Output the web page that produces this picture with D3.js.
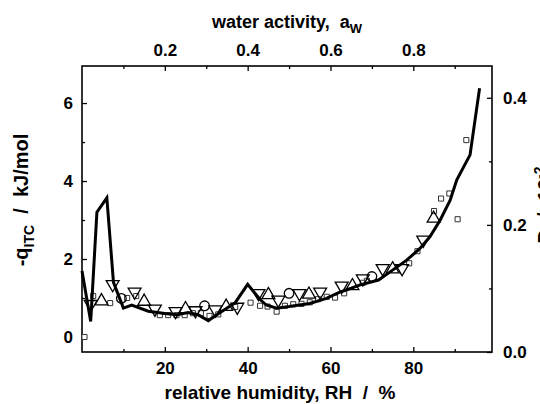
<!DOCTYPE html>
<html>
<head>
<meta charset="utf-8">
<script src="https://cdn.jsdelivr.net/npm/d3@7"></script>
<style>
  body { margin: 0; background: #fff; }
  svg text { font-family: "Liberation Sans", Arial, sans-serif; font-weight: bold; fill: #000; }
</style>
</head>
<body>
<div id="chart"></div>
<script>
// solid line (RH %, -q kJ/mol)
const lineRH = [0, 2.1, 3.6, 6.0, 7.6, 10, 12, 16, 20, 23, 25.6, 28, 30.5, 33, 37, 40, 43, 44.5, 47, 50, 55, 59, 62, 65, 67, 71.6, 74.4, 78.4, 81.6, 84, 86.5, 88.9, 90.5, 93.7, 96];
const lineQ  = [1.69, 0.4, 3.2, 3.57, 1.4, 0.74, 0.82, 0.66, 0.6, 0.57, 0.63, 0.57, 0.42, 0.6, 0.88, 1.35, 0.96, 0.82, 0.74, 0.78, 0.86, 0.99, 1.14, 1.25, 1.33, 1.46, 1.67, 1.97, 2.27, 2.57, 3.0, 3.51, 4.03, 4.67, 6.38];

// open squares
const sqRH = [0.6, 2.7, 6.8, 10.9, 13.1, 18.8, 20.8, 22.8, 24.8, 26.8, 28.7, 30.8, 32.9, 37, 40.7, 43, 44.8, 47, 49, 51, 53, 55, 57, 59.1, 61.1, 63.3, 67.8, 68.8, 79, 81, 85, 86.7, 88.7, 90.7, 92.8];
const sqQ  = [0.0, 1.05, 0.87, 1.0, 1.05, 0.56, 0.56, 0.56, 0.56, 0.61, 0.61, 0.54, 0.58, 0.77, 0.88, 0.8, 0.78, 0.65, 0.8, 0.84, 0.85, 0.89, 0.97, 1.03, 1.01, 1.12, 1.39, 1.44, 1.89, 2.2, 3.23, 3.55, 3.68, 3.02, 5.05];

// open triangles up
const upRH = [4.7, 15, 25, 34.8, 45, 54.8, 65.3, 75, 84.9];
const upQ  = [0.92, 0.91, 0.72, 0.78, 1.08, 1.09, 1.31, 1.74, 3.04];

// open triangles down
const dnRH = [2.1, 7.4, 12.7, 17.6, 22.6, 27.4, 32.2, 37.5, 42.6, 47.4, 52.5, 57.5, 62.7, 67.8, 72.6, 77.3, 82.4];
const dnQ  = [0.84, 1.35, 1.16, 0.72, 0.66, 0.68, 0.7, 0.77, 1.12, 0.95, 1.12, 1.16, 1.31, 1.5, 1.76, 1.76, 2.49];

// open circles
const ciRH = [9.5, 29.6, 50, 70];
const ciQ  = [0.99, 0.8, 1.12, 1.55];

// ticks
const bottomTicks = [20, 40, 60, 80];
const bottomMinor = [10, 30, 50, 70, 90];
const topTicks = [0.2, 0.4, 0.6, 0.8];
const topMinor = [0.1, 0.3, 0.5, 0.7, 0.9];
const leftTicks = [0, 2, 4, 6];
const leftMinor = [1, 3, 5];
const rightTicks = [0.0, 0.2, 0.4];
const rightMinor = [0.1, 0.3];

const W = 540, H = 404;
const L = 82, R = 492, T = 66, B = 352;

const svg = d3.select("#chart").append("svg")
  .attr("width", W).attr("height", H);

const x = d3.scaleLinear().domain([0, 99]).range([L, R]);
const xTop = d3.scaleLinear().domain([0, 0.99]).range([L, R]);
const y = d3.scaleLinear().domain([-0.385, 6.95]).range([B, T]);
const yR = d3.scaleLinear().domain([0, 0.45]).range([B, T]);

function styleAxis(g, size) {
  g.select(".domain").remove();
  g.selectAll("line").attr("stroke", "#000").attr("stroke-width", 1.3);
  g.selectAll("text").style("font-size", size + "px");
}

// axes: ticks point inward
svg.append("g").attr("transform", `translate(0,${B})`)
  .call(d3.axisBottom(x).tickValues(bottomTicks).tickSize(-5).tickPadding(10))
  .call(g => styleAxis(g, 17));
svg.append("g").attr("transform", `translate(0,${B})`)
  .call(d3.axisBottom(x).tickValues(bottomMinor).tickSize(-3).tickFormat(""))
  .call(g => styleAxis(g, 17));

svg.append("g").attr("transform", `translate(0,${T})`)
  .call(d3.axisTop(xTop).tickValues(topTicks).tickSize(-5).tickPadding(10).tickFormat(d3.format(".1f")))
  .call(g => styleAxis(g, 17));
svg.append("g").attr("transform", `translate(0,${T})`)
  .call(d3.axisTop(xTop).tickValues(topMinor).tickSize(-3).tickFormat(""))
  .call(g => styleAxis(g, 17));

svg.append("g").attr("transform", `translate(${L},0)`)
  .call(d3.axisLeft(y).tickValues(leftTicks).tickSize(-5).tickPadding(9))
  .call(g => styleAxis(g, 17));
svg.append("g").attr("transform", `translate(${L},0)`)
  .call(d3.axisLeft(y).tickValues(leftMinor).tickSize(-3).tickFormat(""))
  .call(g => styleAxis(g, 17));

svg.append("g").attr("transform", `translate(${R},0)`)
  .call(d3.axisRight(yR).tickValues(rightTicks).tickSize(-5).tickPadding(11).tickFormat(d3.format(".1f")))
  .call(g => styleAxis(g, 17));
svg.append("g").attr("transform", `translate(${R},0)`)
  .call(d3.axisRight(yR).tickValues(rightMinor).tickSize(-3).tickFormat(""))
  .call(g => styleAxis(g, 17));

// frame
svg.append("rect")
  .attr("x", L).attr("y", T).attr("width", R - L).attr("height", B - T)
  .attr("fill", "none").attr("stroke", "#000").attr("stroke-width", 1.6);

// markers
const plot = svg.append("g");

function pairs(a, b) { return a.map((v, i) => [v, b[i]]); }

plot.selectAll(".sq").data(pairs(sqRH, sqQ)).enter().append("path")
  .attr("class", "sq")
  .attr("transform", d => `translate(${x(d[0])},${y(d[1])})`)
  .attr("d", d3.symbol(d3.symbolSquare, 26))
  .attr("fill", "#fff").attr("stroke", "#333").attr("stroke-width", 1);

plot.selectAll(".up").data(pairs(upRH, upQ)).enter().append("path")
  .attr("class", "up")
  .attr("transform", d => `translate(${x(d[0])},${y(d[1])})`)
  .attr("d", d3.symbol(d3.symbolTriangle, 72))
  .attr("fill", "none").attr("stroke", "#000").attr("stroke-width", 1.3);

plot.selectAll(".dn").data(pairs(dnRH, dnQ)).enter().append("path")
  .attr("class", "dn")
  .attr("transform", d => `translate(${x(d[0])},${y(d[1])}) rotate(180)`)
  .attr("d", d3.symbol(d3.symbolTriangle, 72))
  .attr("fill", "none").attr("stroke", "#000").attr("stroke-width", 1.3);

plot.selectAll(".ci").data(pairs(ciRH, ciQ)).enter().append("circle")
  .attr("class", "ci")
  .attr("cx", d => x(d[0])).attr("cy", d => y(d[1])).attr("r", 4.8)
  .attr("fill", "none").attr("stroke", "#000").attr("stroke-width", 1.3);

// thick line
const line = d3.line().x(d => x(d[0])).y(d => y(d[1]));
plot.append("path")
  .datum(pairs(lineRH, lineQ))
  .attr("d", line)
  .attr("fill", "none").attr("stroke", "#000").attr("stroke-width", 3)
  .attr("stroke-linejoin", "miter");

// titles
const topTitle = svg.append("text")
  .attr("x", 287).attr("y", 28).attr("text-anchor", "middle")
  .attr("xml:space", "preserve")
  .style("font-size", "18px");
topTitle.append("tspan").text("water activity,  a");
topTitle.append("tspan").attr("dy", 5).style("font-size", "13px").text("W");

svg.append("text")
  .attr("x", 280).attr("y", 399).attr("text-anchor", "middle")
  .style("font-size", "19px")
  .attr("xml:space", "preserve")
  .text("relative humidity, RH  /  %");

const leftTitle = svg.append("text")
  .attr("transform", "translate(28,200) rotate(-90)")
  .attr("text-anchor", "middle")
  .attr("xml:space", "preserve")
  .style("font-size", "20px");
leftTitle.append("tspan").text("-q");
leftTitle.append("tspan").attr("dy", 6).style("font-size", "14px").text("ITC");
leftTitle.append("tspan").attr("dy", -6).text("  /  kJ/mol");

// right title is cut by the picture edge, as in the reference
const rightTitle = svg.append("text")
  .attr("transform", "translate(552,205) rotate(-90)")
  .attr("text-anchor", "middle")
  .attr("xml:space", "preserve")
  .style("font-size", "20px");
rightTitle.append("tspan").text("D  /  10");
rightTitle.append("tspan").attr("dy", -8).style("font-size", "14px").text("-2");
</script>
</body>
</html>
